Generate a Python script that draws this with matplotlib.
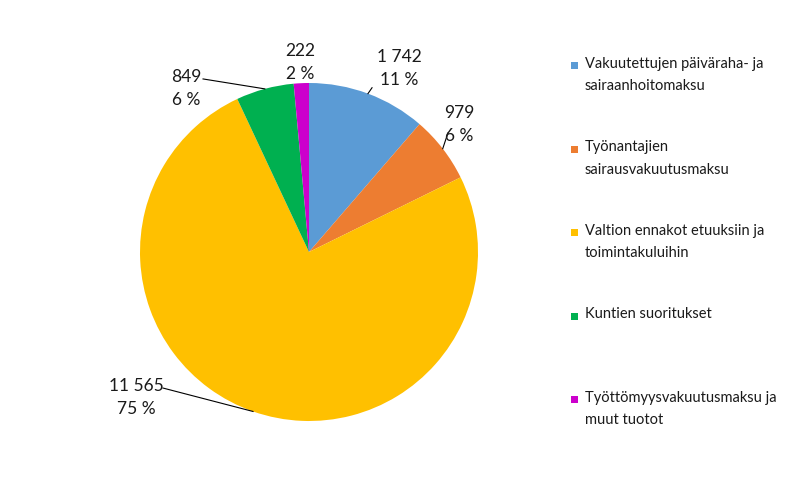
import matplotlib
matplotlib.use("Agg")
import matplotlib.pyplot as plt
from matplotlib.patches import Rectangle
import numpy as np

categories = [
    "Vakuutettujen päiväraha- ja\nsairaanhoitomaksu",
    "Työnantajien\nsairausvakuutusmaksu",
    "Valtion ennakot etuuksiin ja\ntoimintakuluihin",
    "Kuntien suoritukset",
    "Työttömyysvakuutusmaksu ja\nmuut tuotot",
]
values = [1742, 979, 11565, 849, 222]
pct_labels = [11, 6, 75, 6, 2]
colors = ["#5B9BD5", "#ED7D31", "#FFC000", "#00B050", "#CC00CC"]

plt.rcParams["font.family"] = ["Lato", "DejaVu Sans"]

W, H = 803, 491
fig = plt.figure(figsize=(W / 100, H / 100), dpi=100)
cx, cy, r = 309, 252, 169
ax = fig.add_axes([(cx - r) / W, (H - cy - r) / H, 2 * r / W, 2 * r / H])
ax.set_aspect("equal")
ax.axis("off")

wedges, _ = ax.pie(values, colors=colors, startangle=90, counterclock=False,
                   radius=1, center=(0, 0), frame=False,
                   wedgeprops=dict(linewidth=0))
ax.set_xlim(-1, 1)
ax.set_ylim(-1, 1)

def fmt(v):
    return f"{v:,}".replace(",", " ")

# label text positions (data units) and leader-line start points, in slice order
label_pos = [(0.533, 1.085), (0.888, 0.755), (-1.024, -0.86), (-0.728, 0.968), (-0.053, 1.122)]
leader_start = [(0.373, 0.972), (0.822, 0.704), (-0.864, -0.805), (-0.627, 1.024), None]

for w, v, p, pos, ls in zip(wedges, values, pct_labels, label_pos, leader_start):
    ang = np.deg2rad((w.theta1 + w.theta2) / 2)
    ex, ey = np.cos(ang), np.sin(ang)
    if ls is not None:
        ax.plot([ls[0], ex], [ls[1], ey], color="black", lw=0.8, clip_on=False)
    ax.text(pos[0], pos[1], f"{fmt(v)}\n{p} %", ha="center", va="center",
            fontsize=12.5, linespacing=1.5, color="#1a1a1a", clip_on=False)

# legend
leg_x_sq = 571
leg_x_txt = 585
leg_tops = 65
leg_step = 83.5
for i, (c, lab) in enumerate(zip(colors, categories)):
    ty = leg_tops + i * leg_step
    fig.patches.append(Rectangle((leg_x_sq / W, 1 - (ty + 4) / H), 7 / W, 7 / H,
                                 transform=fig.transFigure, facecolor=c, edgecolor="none"))
    fig.text(leg_x_txt / W, 1 - (ty - 8) / H, lab, ha="left", va="top",
             fontsize=10.5, linespacing=1.75, color="#1a1a1a")

fig.savefig("out.png", dpi=100)
